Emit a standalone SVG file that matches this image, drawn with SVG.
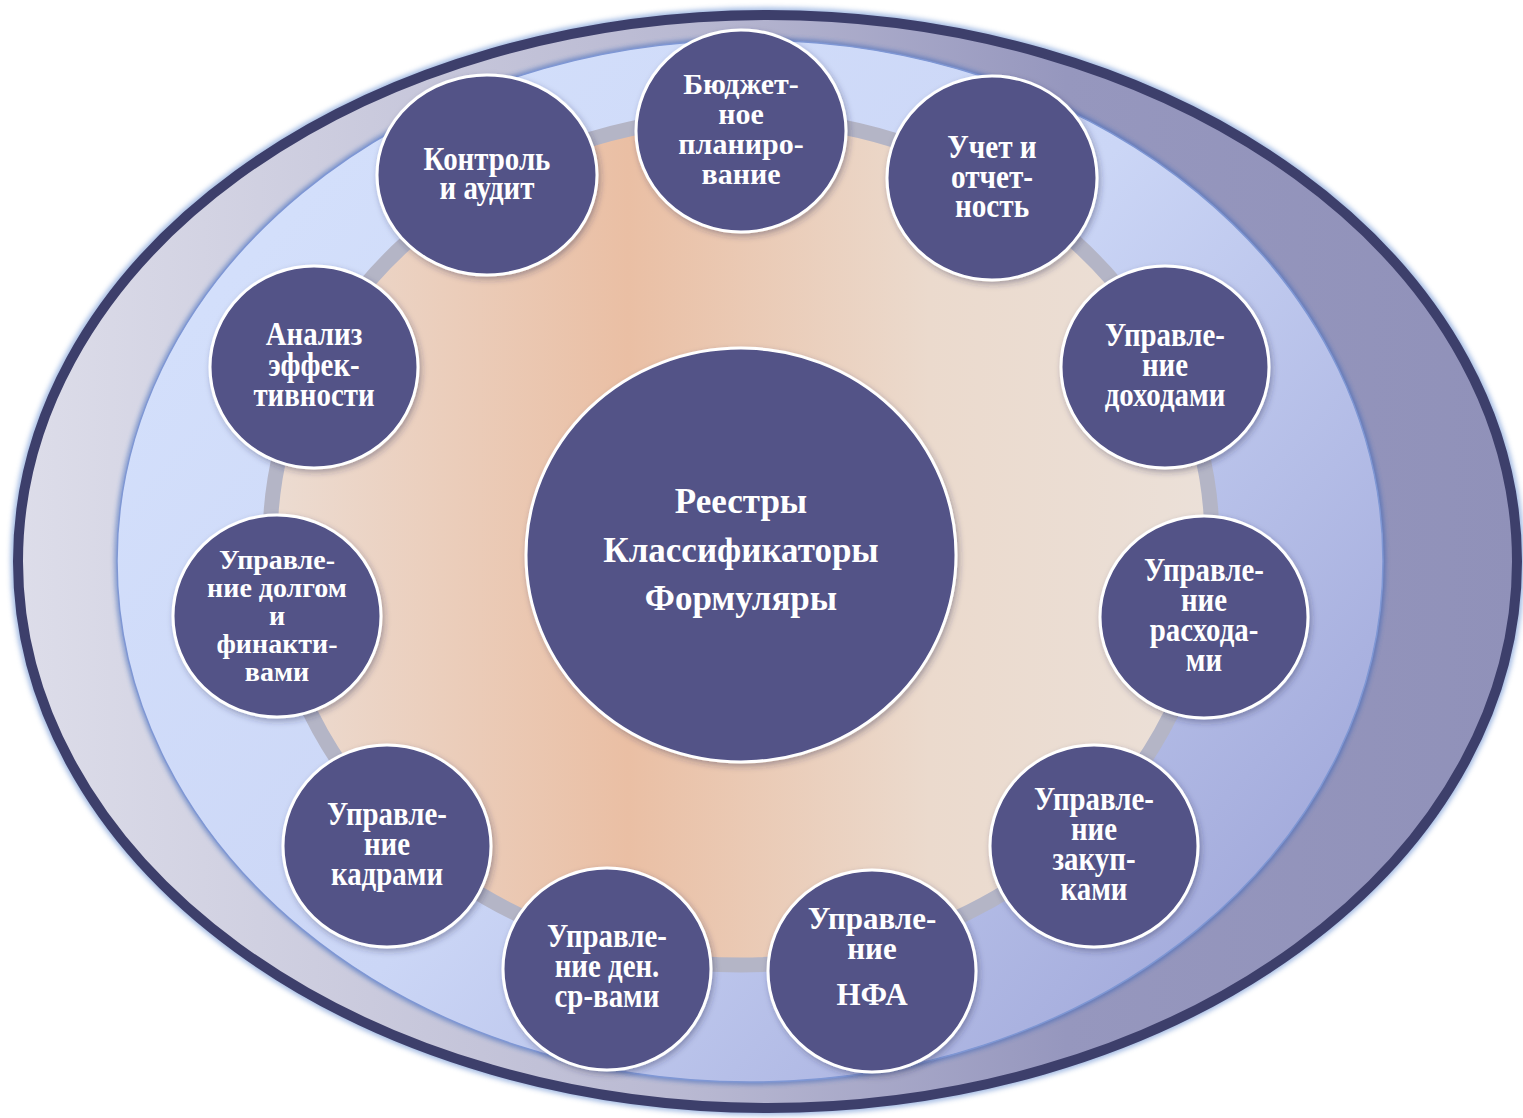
<svg xmlns="http://www.w3.org/2000/svg" width="1523" height="1118" viewBox="0 0 1523 1118">
<defs>
<linearGradient id="gOuter" x1="0" y1="0" x2="1523" y2="0" gradientUnits="userSpaceOnUse">
<stop offset="0" stop-color="#dedeea"/>
<stop offset="0.45" stop-color="#b9b9d2"/>
<stop offset="0.7" stop-color="#9697be"/>
<stop offset="1" stop-color="#9091b9"/>
</linearGradient>
<linearGradient id="gInner" x1="300" y1="200" x2="1250" y2="1050" gradientUnits="userSpaceOnUse">
<stop offset="0" stop-color="#d3dffb"/>
<stop offset="0.45" stop-color="#cbd6f6"/>
<stop offset="1" stop-color="#9ea5d8"/>
</linearGradient>
<linearGradient id="gPeach" x1="270" y1="0" x2="1212" y2="0" gradientUnits="userSpaceOnUse">
<stop offset="0" stop-color="#ecdcd2"/>
<stop offset="0.38" stop-color="#eabfa4"/>
<stop offset="0.7" stop-color="#ebdacd"/>
<stop offset="1" stop-color="#ebe0d8"/>
</linearGradient>
<filter id="shadow" x="-20%" y="-20%" width="140%" height="140%">
<feDropShadow dx="2" dy="3" stdDeviation="3" flood-color="#2a2a50" flood-opacity="0.35"/>
</filter>
<filter id="glow" x="-5%" y="-5%" width="110%" height="110%">
<feGaussianBlur stdDeviation="2.5"/>
</filter>
</defs>
<style>
.node{fill:#525287;stroke:#ffffff;stroke-width:3;}
.lbl{font-family:"Liberation Serif","Times New Roman",serif;font-weight:bold;fill:#ffffff;text-anchor:middle;}
.n30{font-size:30px;}
.c34{font-size:34px;}
</style>

<g id="background">
<ellipse cx="767.5" cy="561.5" rx="751" ry="548" fill="none" stroke="#4a78c8" stroke-width="12" opacity="0.5" filter="url(#glow)"/>
<ellipse cx="767.5" cy="561.5" rx="749.5" ry="546.5" fill="url(#gOuter)" stroke="#3d3f6b" stroke-width="10"/>
<ellipse cx="750" cy="561" rx="633" ry="521" fill="none" stroke="#2f5db6" stroke-width="4" opacity="0.7" filter="url(#glow)"/>
<ellipse cx="750" cy="561" rx="633" ry="521" fill="url(#gInner)" stroke="#7f97d4" stroke-width="1.5"/>
<ellipse cx="741" cy="541" rx="471" ry="424" fill="url(#gPeach)" stroke="#b4b5c6" stroke-width="15"/>
</g>

<g id="connectors"></g>

<g id="center">
<ellipse class="node" cx="741" cy="555" rx="215" ry="207" filter="url(#shadow)"/>
<text class="lbl" font-size="35" x="741" y="513">Реестры</text>
<text class="lbl" font-size="35" x="741" y="562">Классификаторы</text>
<text class="lbl" font-size="35" x="741" y="610">Формуляры</text>
</g>

<g id="budget">
<ellipse class="node" cx="741" cy="131" rx="105" ry="101" filter="url(#shadow)"/>
<text class="lbl n30" x="741" y="94">Бюджет-<tspan x="741" dy="30">ное</tspan><tspan x="741" dy="30">планиро-</tspan><tspan x="741" dy="30">вание</tspan></text>
</g>

<g id="accounting">
<ellipse class="node" cx="992" cy="178" rx="105" ry="102" filter="url(#shadow)"/>
<text class="lbl c34" transform="translate(992 0) scale(0.86 1)" x="0" y="158">Учет и<tspan x="0" dy="30">отчет-</tspan><tspan x="0" dy="29">ность</tspan></text>
</g>

<g id="control">
<ellipse class="node" cx="487" cy="175" rx="110" ry="100" filter="url(#shadow)"/>
<text class="lbl c34" transform="translate(487 0) scale(0.85 1)" x="0" y="170">Контроль<tspan x="0" dy="29">и аудит</tspan></text>
</g>

<g id="analysis">
<ellipse class="node" cx="314" cy="367" rx="104" ry="101" filter="url(#shadow)"/>
<text class="lbl c34" transform="translate(314 0) scale(0.85 1)" x="0" y="345">Анализ<tspan x="0" dy="31">эффек-</tspan><tspan x="0" dy="30">тивности</tspan></text>
</g>

<g id="income">
<ellipse class="node" cx="1165" cy="367" rx="104" ry="101" filter="url(#shadow)"/>
<text class="lbl c34" transform="translate(1165 0) scale(0.85 1)" x="0" y="346">Управле-<tspan x="0" dy="30">ние</tspan><tspan x="0" dy="30">доходами</tspan></text>
</g>

<g id="expenses">
<ellipse class="node" cx="1204" cy="617" rx="104" ry="101" filter="url(#shadow)"/>
<text class="lbl c34" transform="translate(1204 0) scale(0.85 1)" x="0" y="581">Управле-<tspan x="0" dy="30">ние</tspan><tspan x="0" dy="30">расхода-</tspan><tspan x="0" dy="30">ми</tspan></text>
</g>

<g id="debt">
<ellipse class="node" cx="277" cy="616" rx="104" ry="101" filter="url(#shadow)"/>
<text class="lbl" font-size="28" x="277" y="569">Управле-<tspan x="277" dy="28">ние долгом</tspan><tspan x="277" dy="28">и</tspan><tspan x="277" dy="28">финакти-</tspan><tspan x="277" dy="28">вами</tspan></text>
</g>

<g id="personnel">
<ellipse class="node" cx="387" cy="846" rx="104" ry="101" filter="url(#shadow)"/>
<text class="lbl c34" transform="translate(387 0) scale(0.85 1)" x="0" y="825">Управле-<tspan x="0" dy="30">ние</tspan><tspan x="0" dy="30">кадрами</tspan></text>
</g>

<g id="procurement">
<ellipse class="node" cx="1094" cy="846" rx="104" ry="101" filter="url(#shadow)"/>
<text class="lbl c34" transform="translate(1094 0) scale(0.85 1)" x="0" y="810">Управле-<tspan x="0" dy="30">ние</tspan><tspan x="0" dy="30">закуп-</tspan><tspan x="0" dy="30">ками</tspan></text>
</g>

<g id="nfa">
<ellipse class="node" cx="872" cy="971" rx="104" ry="101" filter="url(#shadow)"/>
<text class="lbl" font-size="31" x="872" y="929">Управле-<tspan x="872" dy="30">ние</tspan><tspan x="872" dy="46">НФА</tspan></text>
</g>

<g id="cash">
<ellipse class="node" cx="607" cy="969" rx="104" ry="101" filter="url(#shadow)"/>
<text class="lbl c34" transform="translate(607 0) scale(0.85 1)" x="0" y="947">Управле-<tspan x="0" dy="30">ние  ден.</tspan><tspan x="0" dy="30">ср-вами</tspan></text>
</g>
</svg>
